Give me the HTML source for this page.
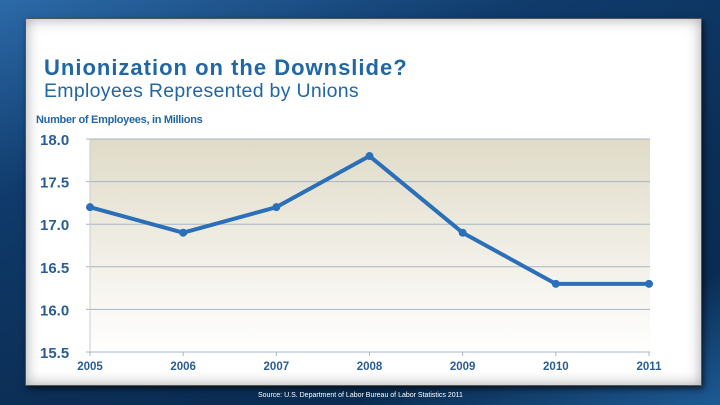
<!DOCTYPE html>
<html><head><meta charset="utf-8"><style>
body{margin:0;width:720px;height:405px;overflow:hidden;font-family:"Liberation Sans",sans-serif;
background:linear-gradient(160deg,#2c6aa8 0%,#0f3a6a 30%,#0c2f57 60%,#0a2c52 80%,#1d5b95 100%);position:relative}
#panel{position:absolute;left:25px;top:18px;width:675px;height:366px;background:#fff;border:1px solid #555;
box-shadow:inset 0 0 14px rgba(0,0,0,.35),2px 3px 6px rgba(0,0,0,.6)}
.t{position:absolute;color:#2167a4}
</style></head><body>
<div id="panel"></div>
<div class="t" style="left:44px;top:55px;font-size:22px;font-weight:bold;letter-spacing:1px">Unionization on the Downslide?</div>
<div class="t" style="left:44px;top:80px;font-size:19.5px;letter-spacing:.3px">Employees Represented by Unions</div>
<div class="t" style="left:36px;top:114px;font-size:11px;font-weight:bold;letter-spacing:-.3px">Number of Employees, in Millions</div>
<div style="position:absolute;left:258px;top:392px;font-size:7px;color:#fff">Source: U.S. Department of Labor Bureau of Labor Statistics 2011</div>
<svg width="720" height="405" style="position:absolute;left:0;top:0">
<defs><linearGradient id="g" x1="0" y1="0" x2="0" y2="1"><stop offset="0" stop-color="#e0dbc8"/><stop offset="1" stop-color="#ffffff"/></linearGradient></defs>
<g id="c"></g></svg>
<script>
const years=["2005","2006","2007","2008","2009","2010","2011"];
const values=[17.2,16.9,17.2,17.8,16.9,16.3,16.3];
const yTicks=[15.5,16.0,16.5,17.0,17.5,18.0];
const X0=90,X1=649,Y0=352,Y1=139,ymin=15.5,ymax=18.0;
const x=i=>X0+(X1-X0)*i/(years.length-1);
const y=v=>Y0-(v-ymin)/(ymax-ymin)*(Y0-Y1);
const ns="http://www.w3.org/2000/svg",g=document.getElementById('c');
function mk(t,a){const e=document.createElementNS(ns,t);for(const k in a)e.setAttribute(k,a[k]);g.appendChild(e);return e;}
let e=mk('rect',{x:X0,y:Y1,width:X1-X0+1,height:Y0-Y1,fill:'url(#g)'});


yTicks.forEach(v=>{
 let l=mk('line',{x1:X0-4,x2:X1+1,y1:y(v),y2:y(v),stroke:'#a9b5c3','stroke-width':1});
 
 
 let t=mk('text',{x:40,y:y(v)+6,'font-size':15,'font-weight':'bold',fill:'#2a5e93','font-family':'Liberation Sans'});
 t.textContent=v.toFixed(1);
 
 
});
e=mk('line',{x1:X0,x2:X0,y1:Y1,y2:Y0,stroke:'#c8ccd2'});


years.forEach((yr,i)=>{
 let tk=mk('line',{x1:x(i),x2:x(i),y1:Y0,y2:Y0+4,stroke:'#a9b5c3'});
 
 
 let t=mk('text',{x:x(i),y:Y0+18,'font-size':11.5,'font-weight':'bold',fill:'#2a5e93','text-anchor':'middle','font-family':'Liberation Sans'});
 t.textContent=yr;
 
 
});
e=mk('polyline',{points:values.map((v,i)=>x(i)+','+y(v)).join(' '),fill:'none',stroke:'#2a6fb8','stroke-width':4,'stroke-linejoin':'round'});


values.forEach((v,i)=>{
 let c=mk('circle',{cx:x(i),cy:y(v),r:4,fill:'#2a6fb8'});
 
 
});
</script>
</body></html>
